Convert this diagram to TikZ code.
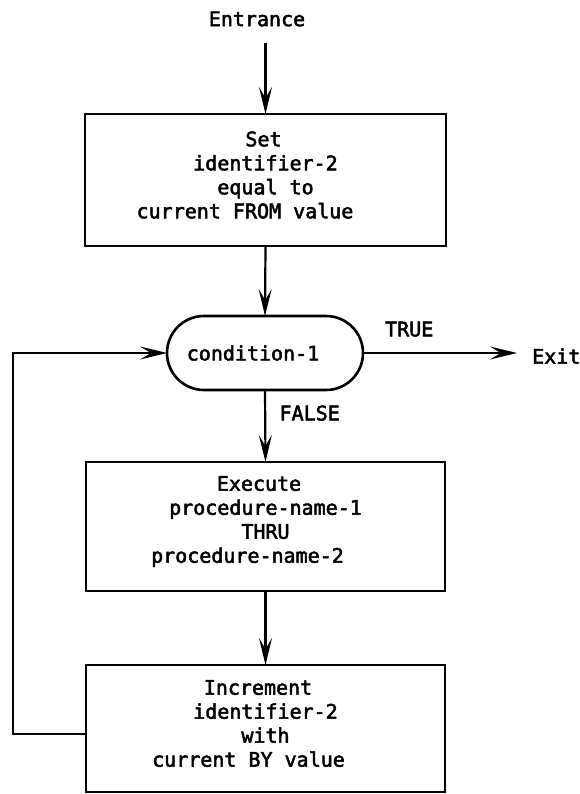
\documentclass[tikz,border=0pt]{standalone}
\usepackage{fontspec}
\newfontfamily\diafont[FakeBold=2.5]{DejaVu Sans Mono}
\usetikzlibrary{arrows.meta}
% trailing pad that pushes a centred line to the left by half its width
\newcommand\padr[1]{\hspace*{#1pt}}
\begin{document}
\begin{tikzpicture}[x=1pt,y=-1pt,
  txt/.style={font={\diafont\fontsize{20}{24}\selectfont}, align=center, inner sep=0pt},
  lbl/.style={font={\diafont\fontsize{20}{24}\selectfont}},
  box/.style={draw, line width=2.6pt, minimum width=359pt, outer sep=0pt},
  pill/.style={draw, line width=2.6pt, rounded corners=37pt,
               minimum width=196pt, minimum height=74pt, outer sep=0pt},
  arr/.style={line width=2.2pt, -{Stealth[length=27pt,width=13pt,inset=11pt]}}]

\useasboundingbox (0,0) rectangle (580,794);

% entry point
\node[lbl, inner sep=0pt] (entr) at (257,19) {Entrance};

% initialise the loop variable
\node[box, minimum width=361pt, minimum height=132pt,
      label={[txt,yshift=5pt]center:{Set\padr{4}\\identifier-2\padr{26}\\equal to\padr{33}\\current FROM value\padr{41}}}]
      (setb) at (265.5,180) {};

% test
\node[pill, label={[lbl,xshift=-12pt]center:condition-1}] (cond) at (265,353) {};

% loop body
\node[box, minimum height=129pt,
      label={[txt,yshift=5pt]center:{Execute\padr{13}\\procedure-name-1\padr{36}\\THRU\padr{5}\\procedure-name-2\padr{36}}}]
      (exec) at (265.5,526.5) {};

% step
\node[box, minimum height=127pt,
      label={[txt,yshift=5pt]center:{Increment\padr{15}\\identifier-2\padr{25}\\with\padr{14}\\current BY value\padr{34}}}]
      (incr) at (265.5,728.5) {};

% exit point
\node[lbl, anchor=west, inner xsep=15pt, inner ysep=2pt] (exit) at (517,356) {Exit};

\coordinate (loopc) at (13,734);

% connectors
\draw[arr, shorten <=16pt] (entr.south -| setb.north) -- (setb.north);
\draw[arr] (setb.south) -- (cond.north);
\draw[arr] (cond.south) -- node[lbl, anchor=west, pos=0.32, xshift=10pt] (fl) {FALSE} (exec.north);
\draw[arr] (exec.south) -- (incr.north);
\draw[arr] ([yshift=-5.5pt]incr.west) -- (loopc) |- (cond.west);
\draw[arr] (cond.east) -- node[lbl, anchor=south, pos=0.3, yshift=12pt] (tl) {TRUE} (cond.east -| exit.west);

\end{tikzpicture}
\end{document}
